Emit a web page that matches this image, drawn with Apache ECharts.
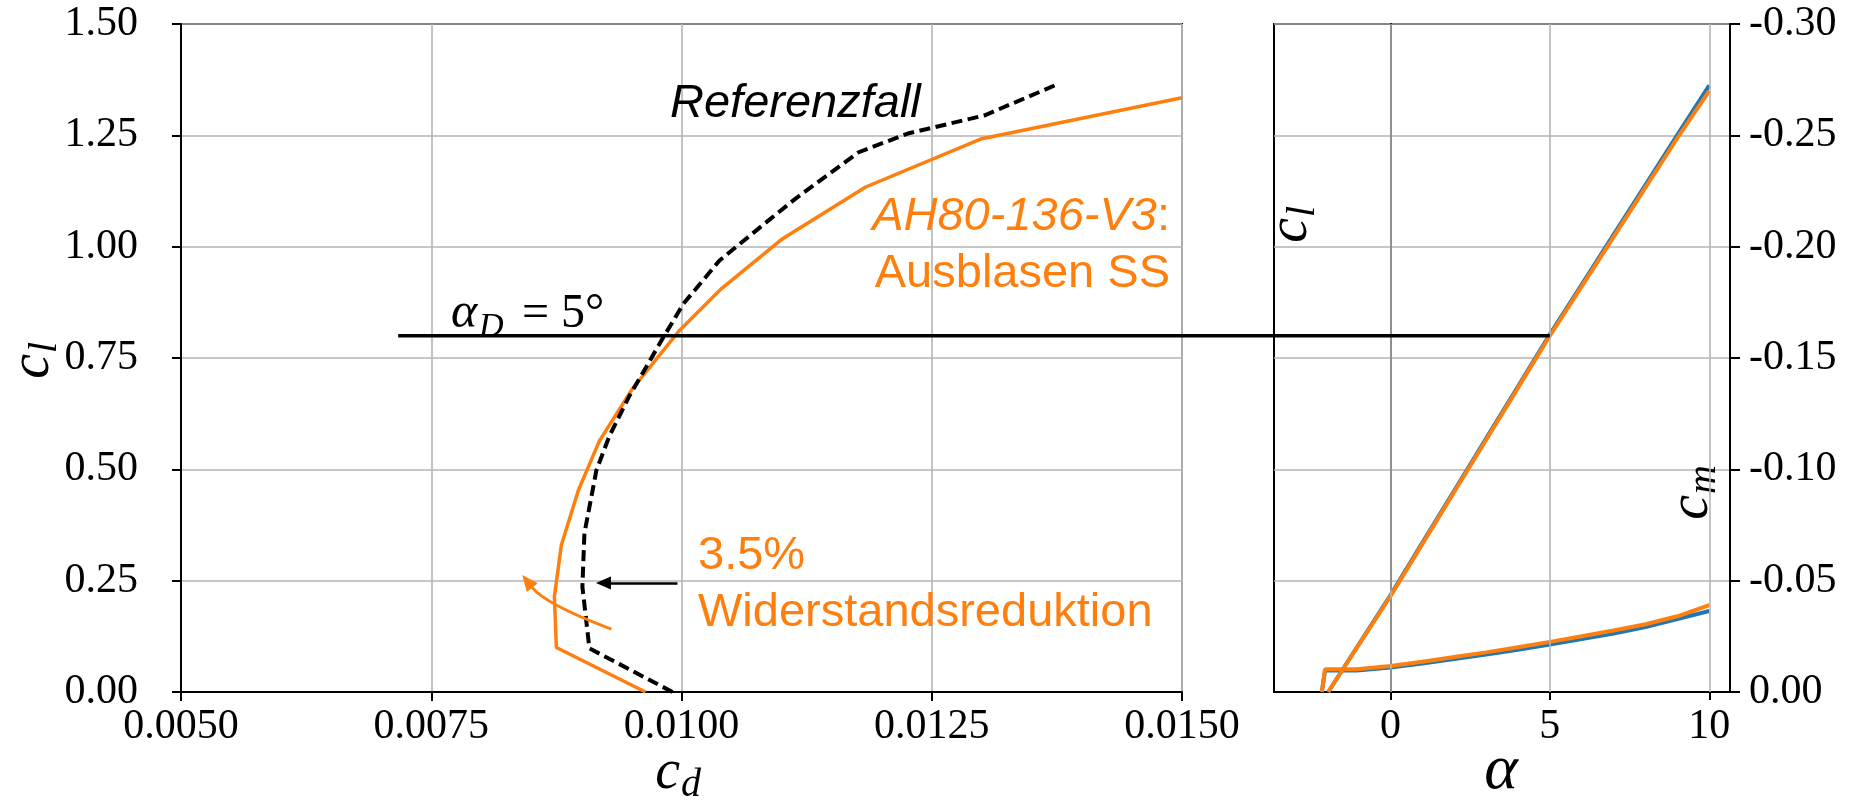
<!DOCTYPE html>
<html>
<head>
<meta charset="utf-8">
<script src="https://cdn.jsdelivr.net/npm/echarts@6/dist/echarts.min.js"></script>
<style>
  html, body { margin: 0; padding: 0; background: #fff; }
  #chart { width: 1853px; height: 801px; }
</style>
</head>
<body>
<div id="chart"></div>
<script>
// Drag polar of the reference airfoil (dashed)
const refCd = [0.00991, 0.00908, 0.00901, 0.00903, 0.00915, 0.00928, 0.00948, 0.00982, 0.01002, 0.01038, 0.01087, 0.01114, 0.01177, 0.01226, 0.01303, 0.01377];
const refCl = [0.000, 0.098, 0.236, 0.356, 0.498, 0.575, 0.665, 0.797, 0.872, 0.969, 1.059, 1.108, 1.212, 1.254, 1.295, 1.366];

// Drag polar of AH80-136-V3 with suction-side blowing
const blowCd = [0.00964, 0.00875, 0.00873, 0.00880, 0.00897, 0.00918, 0.00951, 0.00998, 0.01040, 0.01101, 0.01184, 0.01300, 0.01500];
const blowCl = [0.000, 0.100, 0.214, 0.330, 0.453, 0.564, 0.681, 0.812, 0.906, 1.018, 1.134, 1.2425, 1.3345];

// Lift curve over angle of attack
const alphaCl = [-1.95, -1, 0, 1, 2, 3, 4, 5, 6, 7, 8, 9, 10];
const clRef  = [0, 0.106, 0.217, 0.335, 0.452, 0.569, 0.686, 0.803, 0.915, 1.027, 1.139, 1.251, 1.362];
const clBlow = [0, 0.105, 0.215, 0.332, 0.449, 0.566, 0.683, 0.800, 0.911, 1.022, 1.133, 1.244, 1.350];

// Pitching moment over angle of attack
const alphaCm = [-2.15, -2.05, -1.05, 0, 1, 2, 3, 4, 5, 6, 7, 8, 9, 10];
const cmRef  = [0, -0.0097, -0.0097, -0.0110, -0.0128, -0.0148, -0.0168, -0.0190, -0.0213, -0.0238, -0.0263, -0.0292, -0.0328, -0.0364];
const cmBlow = [0, -0.0102, -0.0102, -0.0117, -0.0136, -0.0157, -0.0178, -0.0201, -0.0225, -0.0250, -0.0276, -0.0304, -0.0340, -0.0390];

// Design point alpha_D = 5 deg
const designCl = 0.8;
const designAlpha = 5;
const designLineStartCd = 0.00717;

// Annotation arrows: straight black shift arrow, curved orange arrow (tail, middle, tip)
const shiftArrowCd = [0.00996, 0.00922];
const shiftArrowCl = [0.245, 0.245];
const blowArrowCd = [0.00930, 0.008723, 0.00841];
const blowArrowCl = [0.141, 0.2065, 0.2625];

// Axis ticks
const cdTicks = [0.0050, 0.0075, 0.0100, 0.0125, 0.0150];
const clTicks = [0, 0.25, 0.5, 0.75, 1.0, 1.25, 1.5];
const alphaTicks = [0, 5, 10];
const alphaRange = [-3.65, 10.65];
const cmTicks = [-0.30, -0.25, -0.20, -0.15, -0.10, -0.05, 0.00];

const ORANGE = '#ff7f0e';
const BLUE = '#1f77b4';
const GRID = '#b4b4b4';
const SERIF = '"Liberation Serif", "Times New Roman", serif';
const SANS = '"Liberation Sans", Arial, sans-serif';

const zip = (xs, ys) => xs.map((x, i) => [x, ys[i]]);
const fix = (v, n) => (Math.abs(v) < 1e-12 ? 0 : v).toFixed(n);

const chart = echarts.init(document.getElementById('chart'), null, { renderer: 'canvas' });

const tickLabel = { color: '#000', fontFamily: SERIF, fontSize: 42 };
const spine = { show: true, lineStyle: { color: '#000', width: 2 } };

const option = {
  animation: false,
  backgroundColor: '#fff',
  grid: [
    { left: 181, top: 24, width: 1001, height: 668, show: true, borderColor: '#000', borderWidth: 2, backgroundColor: 'transparent' },
    { left: 1274, top: 24, width: 456, height: 668, show: true, borderColor: '#000', borderWidth: 2, backgroundColor: 'transparent' }
  ],
  xAxis: [
    {
      type: 'value', gridIndex: 0,
      min: cdTicks[0], max: cdTicks[cdTicks.length - 1], interval: cdTicks[1] - cdTicks[0],
      axisLine: spine,
      axisTick: { show: true, length: 9, lineStyle: { color: '#000', width: 2 } },
      axisLabel: Object.assign({ margin: 14, formatter: v => fix(v, 4) }, tickLabel),
      splitLine: { show: true, lineStyle: { color: GRID, width: 1.6 } }
    },
    {
      type: 'value', gridIndex: 1,
      min: alphaRange[0], max: alphaRange[1],
      axisLine: spine,
      axisTick: { show: true, length: 8, customValues: alphaTicks, lineStyle: { color: '#000', width: 2 } },
      axisLabel: Object.assign({ margin: 14, customValues: alphaTicks, formatter: v => String(Math.round(v)) }, tickLabel),
      splitLine: { show: false }
    }
  ],
  yAxis: [
    {
      type: 'value', gridIndex: 0,
      min: clTicks[0], max: clTicks[clTicks.length - 1], interval: clTicks[1] - clTicks[0],
      axisLine: spine,
      axisTick: { show: true, length: 9, lineStyle: { color: '#000', width: 2 } },
      axisLabel: Object.assign({ margin: 43, formatter: v => fix(v, 2) }, tickLabel),
      splitLine: { show: true, lineStyle: { color: GRID, width: 1.6 } }
    },
    {
      type: 'value', gridIndex: 1,
      min: clTicks[0], max: clTicks[clTicks.length - 1], interval: clTicks[1] - clTicks[0],
      axisLine: spine,
      axisTick: { show: false },
      axisLabel: { show: false },
      splitLine: { show: true, lineStyle: { color: GRID, width: 1.6 } }
    },
    {
      type: 'value', gridIndex: 1, position: 'right', inverse: true,
      min: cmTicks[0], max: cmTicks[cmTicks.length - 1], interval: cmTicks[1] - cmTicks[0],
      axisLine: spine,
      axisTick: { show: true, length: 10, lineStyle: { color: '#000', width: 2 } },
      axisLabel: Object.assign({ margin: 19, formatter: v => fix(v, 2) }, tickLabel),
      splitLine: { show: false }
    }
  ],
  series: [
    {
      name: 'AH80-136-V3', type: 'line', xAxisIndex: 0, yAxisIndex: 0,
      data: zip(blowCd, blowCl), symbol: 'none', z: 3,
      lineStyle: { color: ORANGE, width: 3.5 }
    },
    {
      name: 'Referenzfall', type: 'line', xAxisIndex: 0, yAxisIndex: 0,
      data: zip(refCd, refCl), symbol: 'none', z: 4,
      lineStyle: { color: '#000', width: 4, type: [11, 5.5] },
      markLine: {
        silent: true, animation: false,
        symbol: ['none', 'triangle'], symbolSize: [13, 15],
        label: { show: false },
        lineStyle: { color: '#000', width: 2.5, type: 'solid' },
        emphasis: { disabled: true },
        data: [[{ coord: [shiftArrowCd[0], shiftArrowCl[0]] }, { coord: [shiftArrowCd[1], shiftArrowCl[1]] }]]
      }
    },
    {
      name: 'cl ref', type: 'line', xAxisIndex: 1, yAxisIndex: 1,
      data: zip(alphaCl, clRef), symbol: 'none', z: 3,
      lineStyle: { color: BLUE, width: 4 }
    },
    {
      name: 'cl blow', type: 'line', xAxisIndex: 1, yAxisIndex: 1,
      data: zip(alphaCl, clBlow), symbol: 'none', z: 4,
      lineStyle: { color: ORANGE, width: 4 }
    },
    {
      name: 'cm ref', type: 'line', xAxisIndex: 1, yAxisIndex: 2,
      data: zip(alphaCm, cmRef), symbol: 'none', z: 3,
      lineStyle: { color: BLUE, width: 4 },
      markLine: {
        silent: true, animation: false, symbol: 'none',
        label: { show: false },
        lineStyle: { color: GRID, width: 1.6, type: 'solid' },
        emphasis: { disabled: true },
        data: alphaTicks.map(a => ({ xAxis: a }))
      }
    },
    {
      name: 'cm blow', type: 'line', xAxisIndex: 1, yAxisIndex: 2,
      data: zip(alphaCm, cmBlow), symbol: 'none', z: 4,
      lineStyle: { color: ORANGE, width: 4 }
    }
  ]
};

chart.setOption(option);

// Symbol with subscript, e.g. c_l, placed around a pivot point
function subscripted(x, y, main, sub, rotation, size, subSize, subDy) {
  return {
    type: 'group', x: x, y: y, rotation: rotation, z: 20,
    children: [
      { type: 'text', x: 0, y: 0, style: { text: main, font: 'italic ' + size + 'px ' + SERIF, fill: '#000', align: 'right', verticalAlign: 'middle' } },
      { type: 'text', x: 1, y: subDy, style: { text: sub, font: 'italic ' + subSize + 'px ' + SERIF, fill: '#000', align: 'left', verticalAlign: 'middle' } }
    ]
  };
}

const polar = { xAxisIndex: 0, yAxisIndex: 0 };
const p0 = chart.convertToPixel(polar, [designLineStartCd, designCl]);
const p1 = chart.convertToPixel({ xAxisIndex: 1, yAxisIndex: 1 }, [designAlpha, designCl]);

// Curved arrow through tail, middle and tip (quadratic Bezier)
const aT = chart.convertToPixel(polar, [blowArrowCd[0], blowArrowCl[0]]);
const aM = chart.convertToPixel(polar, [blowArrowCd[1], blowArrowCl[1]]);
const aP = chart.convertToPixel(polar, [blowArrowCd[2], blowArrowCl[2]]);
const cp = [2 * aM[0] - (aT[0] + aP[0]) / 2, 2 * aM[1] - (aT[1] + aP[1]) / 2];
const dx = aP[0] - cp[0], dy = aP[1] - cp[1];
const dl = Math.hypot(dx, dy);
const ux = dx / dl, uy = dy / dl;
const headLen = 16, headHalf = 7;
const base = [aP[0] - ux * headLen, aP[1] - uy * headLen];
const cpEnd = [cp[0] + (base[0] - aP[0]) * 0.5, cp[1] + (base[1] - aP[1]) * 0.5];

chart.setOption({
  graphic: [
    // design lift line across both panels
    { type: 'line', z: 15, shape: { x1: p0[0], y1: p0[1], x2: p1[0], y2: p1[1] }, style: { stroke: '#000', lineWidth: 3.3 } },

    // curved orange arrow
    { type: 'bezierCurve', z: 12, shape: { x1: aT[0], y1: aT[1], cpx1: cpEnd[0], cpy1: cpEnd[1], x2: base[0], y2: base[1] }, style: { stroke: ORANGE, lineWidth: 3, fill: null } },
    { type: 'polygon', z: 12, shape: { points: [aP, [base[0] - uy * headHalf, base[1] + ux * headHalf], [base[0] + uy * headHalf, base[1] - ux * headHalf]] }, style: { fill: ORANGE } },

    // axis titles
    subscripted(33, 354, 'c', 'l', Math.PI / 2, 56, 40, 12),
    subscripted(680, 773, 'c', 'd', 0, 56, 40, 12),
    subscripted(1291, 218, 'c', 'l', Math.PI / 2, 56, 40, 12),
    subscripted(1692, 495, 'c', 'm', Math.PI / 2, 56, 40, 12),
    { type: 'text', x: 1501, y: 771, z: 20, style: { text: 'α', font: 'italic 64px ' + SERIF, fill: '#000', align: 'center', verticalAlign: 'middle' } },

    // annotations
    { type: 'text', x: 670, y: 104, z: 20, style: { text: 'Referenzfall', font: 'italic 47px ' + SANS, fill: '#000', align: 'left', verticalAlign: 'middle' } },
    {
      type: 'text', x: 1170, y: 217, z: 20,
      style: {
        text: '{i|AH80-136-V3}{n|:}', align: 'right', verticalAlign: 'middle',
        rich: {
          i: { font: 'italic 47px ' + SANS, fill: ORANGE },
          n: { font: '47px ' + SANS, fill: ORANGE }
        }
      }
    },
    { type: 'text', x: 1170, y: 274, z: 20, style: { text: 'Ausblasen SS', font: '47px ' + SANS, fill: ORANGE, align: 'right', verticalAlign: 'middle' } },
    { type: 'text', x: 698, y: 556, z: 20, style: { text: '3.5%', font: '47px ' + SANS, fill: ORANGE, align: 'left', verticalAlign: 'middle' } },
    { type: 'text', x: 698, y: 613, z: 20, style: { text: 'Widerstandsreduktion', font: '47px ' + SANS, fill: ORANGE, align: 'left', verticalAlign: 'middle' } },

    // design angle label
    { type: 'text', x: 451, y: 314, z: 20, style: { text: 'α', font: 'italic 50px ' + SERIF, fill: '#000', align: 'left', verticalAlign: 'middle' } },
    { type: 'text', x: 479, y: 327, z: 20, style: { text: 'D', font: 'italic 34px ' + SERIF, fill: '#000', align: 'left', verticalAlign: 'middle' } },
    { type: 'text', x: 522, y: 314, z: 20, style: { text: '= 5°', font: '48px ' + SERIF, fill: '#000', align: 'left', verticalAlign: 'middle' } }
  ]
});
</script>
</body>
</html>
